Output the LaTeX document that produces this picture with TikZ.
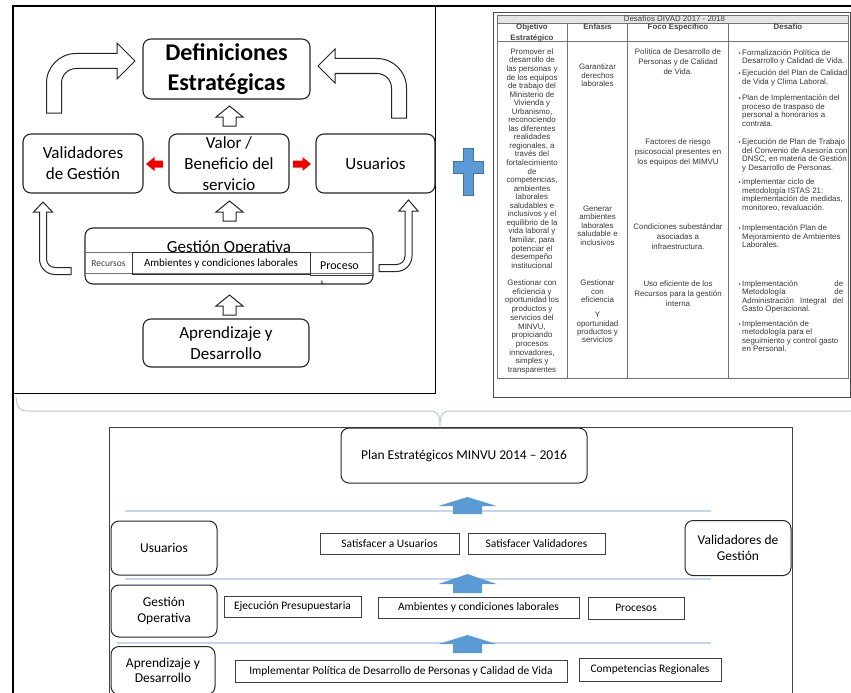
\documentclass[tikz,border=0pt]{standalone}
\usepackage{fontspec}
\setmainfont{Carlito}
\newfontfamily\arialf{Liberation Sans}
\definecolor{ablue}{RGB}{91,155,213}
\definecolor{ablueD}{RGB}{65,113,156}
\definecolor{lblue}{RGB}{197,214,234}
\definecolor{bracec}{RGB}{184,201,221}
\newcommand\bul{\llap{{\fontsize{6}{6}\selectfont •}\hspace{1.5pt}}}
\begin{document}
\begin{tikzpicture}[x=1pt,y=-1pt,
 rbox/.style={draw=black!85, line width=1.1pt, rounded corners=8pt, fill=white, inner sep=0pt, align=center},
 big/.style={font=\fontsize{17}{21}\selectfont},
 mid/.style={font=\fontsize{13.5}{16.5}\selectfont},
 sbox/.style={draw=black!75, line width=0.9pt, fill=white, inner sep=0pt, align=center, font=\fontsize{11.5}{14}\selectfont},
 warr/.style={draw=black!85, line width=1pt, fill=white},
 barr/.style={fill=ablue},
 rarr/.style={fill=red!95!black},
 tb/.style={font=\arialf\fontsize{7.9}{8.6}\selectfont, text=black!78, inner sep=0pt, align=center, anchor=north},
 th/.style={font=\arialf\bfseries\fontsize{7.9}{10.4}\selectfont, text=black!72, inner sep=0pt, align=center},
 bl/.style={font=\arialf\fontsize{7.9}{8.6}\selectfont, text=black!78, inner sep=0pt, align=left, anchor=north west},
 tline/.style={draw=black!55, line width=0.9pt}
]
\useasboundingbox (0,0) rectangle (851,693);
\clip (0,0) rectangle (851,693);
\fill[white] (0,0) rectangle (851,693);

% ---------- frame lines ----------
\draw[line width=2pt] (12,6.5) -- (851,6.5);
\draw[line width=2.5pt] (13,6) -- (13,693);
\draw[line width=1pt] (435,6.5) -- (435,393.5) -- (13,393.5);

% ---------- top-left panel ----------
\draw[warr] (46.5,113) -- (46.5,83) .. controls (46.5,66.71) and (59.71,53.5) .. (76,53.5) -- (117,53.5) -- (117,43) -- (135,61) -- (117,79) -- (117,68.5) -- (76,68.5) .. controls (67.99,68.5) and (61.5,74.99) .. (61.5,83) -- (61.5,113) -- cycle;
\draw[warr] (406.5,118) -- (406.5,88) .. controls (406.5,71.71) and (393.29,58.5) .. (377,58.5) -- (335,58.5) -- (335,49) -- (318,66) -- (335,83) -- (335,73.5) -- (377,73.5) .. controls (385.01,73.5) and (391.5,79.99) .. (391.5,88) -- (391.5,118) -- cycle;
\draw[warr] (71,267.5) -- (55,267.5) .. controls (50.31,267.5) and (46.5,263.69) .. (46.5,259) -- (46.5,212) -- (52.5,212) -- (43,202) -- (33.5,212) -- (39.5,212) -- (39.5,259) .. controls (39.5,267.56) and (46.44,274.5) .. (55,274.5) -- (71,274.5) -- cycle;
\draw[warr] (379,264.5) -- (396.5,264.5) .. controls (401.19,264.5) and (405,260.69) .. (405,256) -- (405,211) -- (399,211) -- (408.5,200) -- (418,211) -- (412,211) -- (412,256) .. controls (412,264.56) and (405.06,271.5) .. (396.5,271.5) -- (379,271.5) -- cycle;

\node[rbox, minimum width=167pt, minimum height=60pt, font=\bfseries\fontsize{24}{30}\selectfont] (def) at (226.5,69) {Definiciones\\Estratégicas};
\node[rbox, big, minimum width=120pt, minimum height=59pt] (valid) at (83,163.5) {Validadores\\de Gestión};
\node[rbox, big, minimum width=120pt, minimum height=59pt] (valor) at (229,163.5) {Valor /\\Beneficio del\\servicio};
\node[rbox, big, minimum width=119pt, minimum height=59pt] (usu) at (375.5,163.5) {Usuarios};
\node[rbox, minimum width=288pt, minimum height=56pt] (gest) at (229,256) {};
\node[big, anchor=base, inner sep=0pt] (gestT) at (229,252) {Gestión Operativa};
\draw[draw=black!55, line width=0.8pt, fill=white] (85.5,252) rectangle (372.5,273.5);
\draw[draw=black!80, line width=0.9pt] (132,252) rectangle (310,274);
\draw[draw=black!80, line width=0.9pt] (310,252) -- (310,275) -- (372.5,275);
\node[inner sep=0pt, font=\fontsize{9.5}{11}\selectfont, text=black!75] (rec) at (108.5,263) {Recursos};
\node[inner sep=0pt, font=\fontsize{11}{13}\selectfont] (amb1) at (221,263.5) {Ambientes y condiciones laborales};
\node[inner sep=0pt, anchor=base west, font=\fontsize{12}{14}\selectfont] (proc1) at (320,269) {Proceso};
\node[inner sep=0pt, anchor=base west, font=\fontsize{7}{8}\selectfont] (proc1s) at (320.5,284) {s};
\node[rbox, big, minimum width=166pt, minimum height=48pt] (apr) at (226,343) {Aprendizaje y\\Desarrollo};

% white up arrows
\draw[warr] (229.5,106) -- (243,117) -- (236,117) -- (236,126) -- (223,126) -- (223,117) -- (216,117) -- cycle;
\draw[warr] (229.5,201) -- (243,212) -- (236,212) -- (236,221) -- (223,221) -- (223,212) -- (216,212) -- cycle;
\draw[warr] (229.5,295) -- (243,306) -- (236,306) -- (236,315) -- (223,315) -- (223,306) -- (216,306) -- cycle;
% red arrows
\fill[rarr] (146,164) -- (154.5,157) -- (154.5,160.5) -- (163,160.5) -- (163,167.5) -- (154.5,167.5) -- (154.5,171) -- cycle;
\fill[rarr] (311,164) -- (302.5,157) -- (302.5,160.5) -- (293,160.5) -- (293,167.5) -- (302.5,167.5) -- (302.5,171) -- cycle;

% ---------- plus ----------
\draw[fill=ablue, draw=ablueD, line width=0.8pt] (463,148) -- (473,148) -- (473,161.5) -- (483,161.5) -- (483,173.5) -- (473,173.5) -- (473,195) -- (463,195) -- (463,173.5) -- (453,173.5) -- (453,161.5) -- (463,161.5) -- cycle;

% ---------- table panel ----------
\draw[draw=black!70, line width=1pt] (493,12.5) rectangle (850.5,397);
\fill[black!10] (497,15.7) rectangle (848.3,23.3);
\draw[tline] (497,15.7) rectangle (848.3,378.3);
\draw[tline] (497,23.3) -- (848.3,23.3);
\draw[tline] (497,41.7) -- (848.3,41.7);
\draw[tline, line width=1.2pt] (567.3,23.3) -- (567.3,378.3);
\draw[tline, line width=1.2pt] (627.7,23.3) -- (627.7,378.3);
\draw[tline, line width=1.2pt] (728.3,23.3) -- (728.3,378.3);

\node[inner sep=0pt, anchor=base, font=\arialf\fontsize{7.9}{9}\selectfont, text=black!75] (ttl) at (674.5,22) {Desafíos DIVAD 2017 - 2018};
\node[th, anchor=north] (h1) at (532,22.5) {\strut Objetivo\\Estratégico};
\node[th, anchor=base] (h2) at (597.5,29.8) {Enfasis};
\node[th, anchor=base] (h3) at (678,29.8) {Foco Específico};
\node[th, anchor=base] (h4) at (788,29.8) {Desafío};

\node[tb, font=\arialf\fontsize{7.9}{8.55}\selectfont] (c1a) at (532,48.2) {\strut Promover el\\desarrollo de\\las personas y\\de los equipos\\de trabajo del\\Ministerio de\\Vivienda y\\Urbanismo,\\reconociendo\\las diferentes\\realidades\\regionales, a\\través del\\fortalecimiento\\de\\competencias,\\ambientes\\laborales\\saludables e\\inclusivos y el\\equilibrio de la\\vida laboral y\\familiar, para\\potenciar el\\desempeño\\institucional};
\node[tb, font=\arialf\fontsize{7.9}{8.73}\selectfont] (c1b) at (532,279.1) {\strut Gestionar con\\eficiencia y\\oportunidad los\\productos y\\servicios del\\MINVU,\\propiciando\\procesos\\innovadores,\\simples y\\transparentes};

\node[tb, font=\arialf\fontsize{7.9}{7.7}\selectfont] (c2a) at (597.5,63.8) {\strut Garantizar\\derechos\\laborales};
\node[tb] (c2b) at (597.5,204.8) {\strut Generar\\ambientes\\laborales\\saludable e\\inclusivos};
\node[tb, font=\arialf\fontsize{7.9}{8.7}\selectfont] (c2c) at (597.5,279.1) {\strut Gestionar\\con\\eficiencia};
\node[tb, font=\arialf\fontsize{7.9}{8.3}\selectfont] (c2d) at (597.5,311.7) {\strut Y\\oportunidad\\productos y\\servicios};

\node[tb, font=\arialf\fontsize{7.9}{10}\selectfont] (c3a) at (678,47.2) {\strut Política de Desarrollo de\\Personas y de Calidad\\de Vida.};
\node[tb, font=\arialf\fontsize{7.9}{10}\selectfont] (c3b) at (678,137.2) {\strut Factores de riesgo\\psicosocial presentes en\\los equipos del MIMVU};
\node[tb, font=\arialf\fontsize{7.9}{10}\selectfont] (c3c) at (678,222.2) {\strut Condiciones subestándar\\asociadas a\\infraestructura.};
\node[tb, font=\arialf\fontsize{7.9}{10}\selectfont] (c3d) at (678,278.8) {\strut Uso eficiente de los\\Recursos para la gestión\\interna};

\node[bl] (d1) at (742,48.8) {\bul\strut Formalización Política de\\Desarrollo y Calidad de Vida.};
\node[bl] (d2) at (742,69.2) {\bul\strut Ejecución del Plan de Calidad\\de Vida y Clima Laboral.};
\node[bl] (d3) at (742,94.2) {\bul\strut Plan de Implementación del\\proceso de traspaso de\\personal a honorarios a\\contrata.};
\node[bl] (d4) at (742,138.2) {\bul\strut Ejecución de Plan de Trabajo\\del Convenio de Asesoría con\\DNSC, en materia de Gestión\\y Desarrollo de Personas.};
\node[bl] (d5) at (742,178.2) {\bul\strut implementar ciclo de\\metodología ISTAS 21:\\implementación de medidas,\\monitoreo, revaluación.};
\node[bl] (d6) at (742,224.2) {\bul\strut Implementación Plan de\\Mejoramiento de Ambientes\\Laborales.};
\node[bl] (d7) at (742,279.8) {\bul\strut\hbox to 101pt{Implementación\hfill de}\\\hbox to 101pt{Metodología\hfill de}\\\hbox to 101pt{Administración\hfill Integral\hfill del}\\Gasto Operacional.};
\node[bl] (d8) at (742,319.8) {\bul\strut Implementación de\\metodología para el\\seguimiento y control gasto\\en Personal.};

% ---------- brace ----------
\draw[draw=bracec, line width=1pt] (16.5,398) .. controls (16.5,407) and (19,411) .. (28,411) -- (430,411) .. controls (437,411) and (440,414) .. (440,426) .. controls (440,414) and (443,411) .. (450,411) -- (851,411);

% ---------- bottom panel ----------
\draw[draw=black!75, line width=1pt] (109.5,427) rectangle (792,705);
\draw[draw=lblue, line width=1.5pt] (125,511) -- (711,511);
\draw[draw=lblue, line width=1.5pt] (125,579) -- (711,579);
\draw[draw=lblue, line width=1.5pt] (117,643) -- (711,643);
\fill[barr] (467.5,497) -- (496.5,506) -- (482,506) -- (482,514) -- (453,514) -- (453,506) -- (438.5,506) -- cycle;
\fill[barr] (467.5,574) -- (496.5,584) -- (482,584) -- (482,593) -- (453,593) -- (453,584) -- (438.5,584) -- cycle;
\fill[barr] (467.5,635) -- (496.5,644) -- (482,644) -- (482,653) -- (453,653) -- (453,644) -- (438.5,644) -- cycle;

\node[rbox, mid, line width=1pt, minimum width=246pt, minimum height=55pt] (plan) at (464,455.5) {Plan Estratégicos MINVU 2014 – 2016};
\node[rbox, mid, line width=1pt, minimum width=106pt, minimum height=54pt] (usuB) at (164,548) {Usuarios};
\node[sbox, minimum width=139pt, minimum height=21pt] (sat1) at (389.5,543.5) {Satisfacer a Usuarios};
\node[sbox, minimum width=137pt, minimum height=21pt] (sat2) at (536.5,543.5) {Satisfacer Validadores};
\node[rbox, mid, line width=1pt, minimum width=106pt, minimum height=55pt, font=\fontsize{13.5}{16}\selectfont] (valB) at (738,548) {Validadores de\\Gestión};
\node[rbox, mid, line width=1pt, minimum width=106pt, minimum height=52pt, font=\fontsize{13.5}{16.5}\selectfont] (gestB) at (164,611) {Gestión\\Operativa};
\node[sbox, minimum width=137pt, minimum height=21pt] (ejec) at (292.5,606.5) {Ejecución Presupuestaria};
\node[sbox, minimum width=201pt, minimum height=21pt] (ambB) at (478.5,607.5) {Ambientes y condiciones laborales};
\node[sbox, minimum width=96pt, minimum height=22pt] (procB) at (636,608) {Procesos};
\node[rbox, mid, line width=1pt, minimum width=104pt, minimum height=48pt, font=\fontsize{13.5}{15.6}\selectfont] (aprB) at (163,670.5) {Aprendizaje y\\Desarrollo};
\node[sbox, minimum width=332pt, minimum height=22pt] (impl) at (401,671) {Implementar Política de Desarrollo de Personas y Calidad de Vida};
\node[sbox, minimum width=142pt, minimum height=23pt] (comp) at (650,669.5) {Competencias Regionales};
\end{tikzpicture}
\end{document}
